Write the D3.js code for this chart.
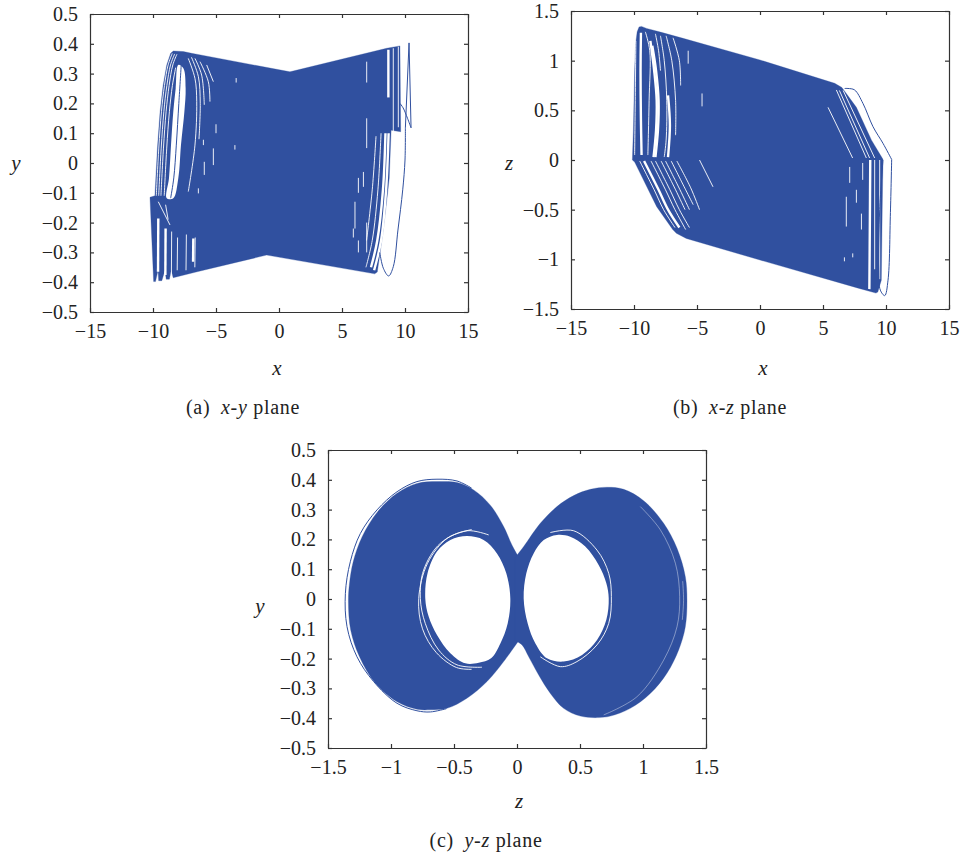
<!DOCTYPE html>
<html>
<head>
<meta charset="utf-8">
<script src="https://cdn.jsdelivr.net/npm/d3@7/dist/d3.min.js"></script>
<style>
  body { margin: 0; background: #fff; }
  text { font-family: "Liberation Serif", serif; fill: #222; }
  .tick text { font-size: 20px; }
  .label { font-size: 21px; font-style: italic; }
  .caption { font-size: 20px; letter-spacing: 0.7px; }
</style>
</head>
<body>
<svg id="chart" width="962" height="861"></svg>
<script>
// tick values and labels
const xTicks = [-15, -10, -5, 0, 5, 10, 15];
const xTickLabels = ['−15', '−10', '−5', '0', '5', '10', '15'];
const yTicks = [-0.5, -0.4, -0.3, -0.2, -0.1, 0, 0.1, 0.2, 0.3, 0.4, 0.5];
const yTickLabels = ['−0.5', '−0.4', '−0.3', '−0.2', '−0.1', '0', '0.1', '0.2', '0.3', '0.4', '0.5'];
const zTicks = [-1.5, -1, -0.5, 0, 0.5, 1, 1.5];
const zTickLabels = ['−1.5', '−1', '−0.5', '0', '0.5', '1', '1.5'];

// (a) x-y plane: area the trajectory fills
const xyBody = [[-9.85,-0.11],[-9.65,0.05],[-9.44,0.172],[-9.2,0.26],[-8.91,0.329],[-8.6,0.368],[-8.39,0.376],[-7.59,0.374],[-6.93,0.368],
  [-6.53,0.365],[0.87,0.306],[8.54,0.385],[9.6,0.393],[9.66,0.105],[8.9,0.11],
  [8.75,-0.05],[8.65,-0.09],[8.25,-0.235],[7.8,-0.366],[7.6,-0.372],[-0.98,-0.309],[-6.5,-0.365],[-8.4,-0.385],[-8.55,-0.36],[-8.7,-0.39],
  [-8.95,-0.39],[-9.05,-0.36],[-9.3,-0.395],[-9.55,-0.395],[-9.6,-0.36],[-9.8,-0.398],[-9.95,-0.398],[-10.24,-0.115]];
const xyHole = [[-7.99,0.329],[-8.2,0.25],[-8.39,0.172],[-8.57,0.06],[-8.73,-0.05],[-8.91,-0.118],[-8.39,-0.118],[-7.99,-0.05],[-7.78,0.06],[-7.51,0.172],[-7.41,0.25],[-7.59,0.318]];
const xyGapsWide = [
  [[8.45,0.1],[8.25,-0.09],[7.8,-0.26],[7.3,-0.35]],
  [[8.7,0.1],[8.5,-0.09],[8.1,-0.26],[7.55,-0.36]],
  [[-9.58,-0.186],[-9.6,-0.365]],
  [[-9.0,-0.22],[-9.02,-0.376]],
  [[-6.8,-0.253],[-6.82,-0.331]],
  [[8.68,0.38],[8.68,0.22]]
];
const xyGapsFine = [
  [[-9.74,-0.11],[-9.54,0.05],[-9.33,0.172],[-9.09,0.26],[-8.8,0.329],[-8.47,0.368]],
  [[-9.55,-0.11],[-9.35,0.05],[-9.14,0.172],[-8.9,0.26],[-8.61,0.329],[-8.28,0.366]],
  [[-9.37,-0.11],[-9.17,0.05],[-8.96,0.172],[-8.72,0.26],[-8.43,0.329],[-8.1,0.365]],
  [[-9.11,-0.11],[-8.91,0.05],[-8.7,0.172],[-8.46,0.26],[-8.2,0.32]],
  [[-7.2,0.351],[-6.67,0.284],[-6.53,0.206],[-6.67,0.06],[-7.2,-0.096]],
  [[-6.95,0.355],[-6.4,0.29],[-6.25,0.2],[-6.35,0.08]],
  [[-6.67,0.351],[-6.14,0.295],[-5.93,0.195]],
  [[-6.27,0.34],[-5.61,0.273],[-5.48,0.206]],
  [[-5.74,0.329],[-5.21,0.273]],
  [[-8.52,-0.23],[-8.54,-0.376]],
  [[-8.05,-0.25],[-8.08,-0.36]],
  [[-7.35,-0.24],[-7.38,-0.36]],
  [[-6.65,-0.25],[-6.68,-0.35]],
  [[-9.58,-0.13],[-8.65,-0.208]],
  [[-9.0,-0.14],[-8.8,-0.19]],
  [[8.1,0.1],[7.85,-0.09],[7.4,-0.26],[6.9,-0.35]],
  [[7.7,0.09],[7.4,-0.09],[6.95,-0.26]],
  [[9.07,0.385],[9.07,0.1]],
  [[9.47,0.39],[9.47,0.12]],
  [[6.96,0.34],[6.96,0.27]],
  [[6.96,0.15],[6.96,0.05]],
  [[6.3,-0.05],[6.3,-0.1]],
  [[6.03,-0.13],[6.03,-0.22]],
  [[5.9,-0.22],[5.9,-0.25]],
  [[6.3,-0.26],[6.3,-0.3]],
  [[6.7,-0.03],[6.7,-0.08]],
  [[6.96,-0.2],[6.96,-0.3]],
  [[-3.4,0.285],[-3.4,0.27]],
  [[-3.5,0.06],[-3.5,0.045]],
  [[-5.0,0.13],[-5.0,0.1]],
  [[-6.0,0.078],[-6.0,0.06]],
  [[-5.21,0.049],[-5.21,-0.007]],
  [[-5.93,0.004],[-5.93,-0.04]],
  [[-6.4,-0.085],[-6.4,-0.102]]
];
const xyLoops = [
  [[10.32,0.403],[10.48,0.118]],
  [[10.32,0.403],[10.03,0.118]],
  [[9.6,0.2],[9.85,0.185],[10.2,0.15],[10.48,0.118]],
  [[10.03,0.118],[10.0,0.01],[9.82,-0.09],[9.44,-0.225],[9.07,-0.348],[8.7,-0.379],[8.28,-0.353],[8.0,-0.3]],
  [[-7.75,0.335],[-7.95,0.2],[-8.15,0.06],[-8.35,-0.05],[-8.6,-0.118]]
];

// (b) x-z plane
const xzBody = [[-10.13,0],[-10.05,0.3],[-10,0.6],[-9.95,0.9],[-9.87,1.17],[-9.75,1.29],[-9.6,1.34],[-9.4,1.345],[-9,1.325],[-7.83,1.285],
  [-6.11,1.225],[0,1.007],[5.93,0.772],[6.5,0.73],[7.65,0.53],[8.85,0.2],[9.76,0.007],[9.7,-0.5],[9.63,-1.21],[9.35,-1.33],[9.2,-1.34],
  [7.8,-1.29],[0,-1.007],[-5.85,-0.79],[-6.64,-0.738],[-6.93,-0.7],[-8.2,-0.47],[-9.95,-0.02]];
const xzGapsWide = [
  [[-9.45,1.28],[-9.48,0.9],[-9.45,0.4],[-9.4,0.05]],
  [[-8.7,1.2],[-8.4,0.9],[-8.2,0.6],[-8.25,0.3],[-8.45,0.03]],
  [[-8.55,1.15],[-8.25,0.9],[-8.05,0.6],[-8.1,0.3],[-8.3,0.03]],
  [[-9.2,-0.01],[-8.05,-0.3],[-7.3,-0.5],[-6.4,-0.68]],
  [[-7.3,0.65],[-7.15,0.35],[-7.3,0.03]],
  [[8.75,0],[8.72,-0.6],[8.68,-1.3]]
];
const xzGapsFine = [
  [[-9.85,1.2],[-9.9,0.6],[-9.95,0.05]],
  [[-9.1,1.29],[-8.75,1.1],[-8.8,0.6],[-8.9,0.05]],
  [[-7.9,1.25],[-7.6,1.0],[-7.4,0.6],[-7.45,0.2],[-7.6,0.03]],
  [[-7.45,1.25],[-7.0,1.0],[-6.7,0.6],[-6.7,0.25]],
  [[-6.9,1.23],[-6.4,1.0],[-6.3,0.75]],
  [[-8.3,1.27],[-8.05,1.1],[-7.9,0.9]],
  [[-9.55,-0.01],[-8.4,-0.3],[-7.65,-0.5],[-6.75,-0.68]],
  [[-8.65,-0.01],[-7.5,-0.3],[-6.75,-0.5],[-5.9,-0.7]],
  [[-8.3,-0.01],[-7.15,-0.3],[-6.4,-0.5],[-5.6,-0.68]],
  [[-7.85,-0.01],[-6.7,-0.3],[-5.95,-0.5]],
  [[-7.5,-0.01],[-6.35,-0.3],[-5.6,-0.5]],
  [[-7.05,-0.01],[-5.9,-0.3],[-5.3,-0.45]],
  [[-6.6,-0.01],[-5.5,-0.28],[-4.8,-0.5]],
  [[5.4,0.53],[7.35,0.02]],
  [[6.06,0.705],[8.44,0.02]],
  [[6.3,0.7],[8.7,0.02]],
  [[6.6,0.7],[9.1,0.02]],
  [[9.1,0],[9.1,-1.1]],
  [[9.5,0],[9.5,-1.2]],
  [[6.85,-0.37],[6.85,-0.67]],
  [[7.12,-0.07],[7.12,-0.23]],
  [[7.65,-0.3],[7.65,-0.43]],
  [[8.05,-0.54],[8.05,-0.7]],
  [[8.15,-0.03],[8.15,-0.2]],
  [[7.36,-0.94],[7.36,-0.98]],
  [[6.7,-0.98],[6.7,-1.02]],
  [[-4.6,0.67],[-4.6,0.54]],
  [[-5.7,1.1],[-5.7,0.97]],
  [[-4.8,0],[-3.73,-0.27]]
];
const xzLoops = [
  [[6.72,0.72],[6.98,0.72],[7.51,0.705],[8.17,0.57],[8.97,0.335],[9.76,0.168],[10.45,0.005]],
  [[10.45,0.005],[10.35,-0.53],[10.16,-1.21],[9.9,-1.365],[9.55,-1.31],[9.42,-1.1],[9.5,-0.5],[9.76,0]]
];

// (c) y-z plane, points are [z, y]
const zyLeftLobe = [[0.013,0.14],[-0.04,0.181],[-0.106,0.243],[-0.212,0.315],[-0.344,0.366],[-0.476,0.391],[-0.635,0.394],[-0.794,0.388],[-0.952,0.355],
  [-1.106,0.293],[-1.228,0.21],[-1.30,0.125],[-1.33,0.05],[-1.338,-0.01],[-1.32,-0.104],[-1.25,-0.194],[-1.124,-0.283],[-0.952,-0.345],
  [-0.794,-0.37],[-0.688,-0.372],[-0.556,-0.367],[-0.397,-0.333],[-0.238,-0.277],[-0.106,-0.21],[0.013,-0.14]];
const zyRightLobe = [[-0.013,0.14],[0.053,0.176],[0.185,0.254],[0.317,0.31],[0.45,0.347],[0.582,0.368],[0.714,0.375],[0.847,0.368],[1.005,0.33],[1.164,0.254],
  [1.27,0.17],[1.336,0.075],[1.349,-0.003],[1.336,-0.093],[1.283,-0.171],[1.19,-0.249],[1.058,-0.317],[0.899,-0.367],[0.741,-0.393],[0.648,-0.398],[0.503,-0.393],
  [0.37,-0.367],[0.265,-0.317],[0.172,-0.255],[0.093,-0.194],[0.04,-0.154],[-0.013,-0.14]];
const zyLeftHole = [[-0.397,0.211],[-0.265,0.198],[-0.159,0.153],[-0.085,0.086],[-0.053,0.002],[-0.074,-0.082],[-0.132,-0.149],[-0.206,-0.199],
  [-0.304,-0.214],[-0.41,-0.216],[-0.529,-0.182],[-0.635,-0.121],[-0.701,-0.059],[-0.728,0.002],[-0.71,0.086],[-0.635,0.159],[-0.529,0.198]];
const zyRightHole = [[0.053,0.002],[0.074,0.086],[0.132,0.153],[0.212,0.198],[0.317,0.215],[0.423,0.209],[0.542,0.176],[0.648,0.114],[0.709,0.053],[0.728,0.002],
  [0.709,-0.07],[0.635,-0.138],[0.516,-0.188],[0.37,-0.21],[0.238,-0.199],[0.146,-0.149],[0.085,-0.082]];
const zyGapsFine = [
  [[-0.225,0.215],[-0.397,0.229],[-0.608,0.187],[-0.741,0.097],[-0.767,0.002],[-0.728,-0.082],[-0.622,-0.171],[-0.476,-0.221],[-0.278,-0.229]],
  [[-0.36,0.233],[-0.55,0.205],[-0.71,0.12],[-0.78,0.002],[-0.75,-0.1],[-0.64,-0.18],[-0.48,-0.23],[-0.36,-0.236]],
  [[0.265,0.223],[0.45,0.229],[0.635,0.164],[0.728,0.086],[0.749,0.008],[0.728,-0.082],[0.635,-0.154],[0.476,-0.21],[0.344,-0.227],[0.185,-0.194]]
];
const zyGapsHair = [
  [[0.979,0.31],[1.138,0.232],[1.257,0.12],[1.291,0.008],[1.27,-0.093],[1.164,-0.205],[0.952,-0.328],[0.688,-0.389]],
  [[1.315,0.06],[1.322,-0.005],[1.312,-0.07]]
];
const zyLoops = [
  [[-0.36,0.372],[-0.476,0.396],[-0.635,0.402],[-0.794,0.394],[-0.952,0.36],[-1.111,0.299],[-1.243,0.22],[-1.323,0.125],[-1.362,0.019],
   [-1.349,-0.093],[-1.27,-0.194],[-1.138,-0.277],[-0.952,-0.35],[-0.794,-0.375],[-0.688,-0.379],[-0.56,-0.368]]
];

const blue = '#30509f';
const svg = d3.select('#chart');

function drawPanel(p) {
  const x = d3.scaleLinear().domain([p.xTicks[0], p.xTicks[p.xTicks.length - 1]]).range([p.left, p.left + 378]);
  const y = d3.scaleLinear().domain([p.yTicks[0], p.yTicks[p.yTicks.length - 1]]).range([p.top + 298, p.top]);
  const g = svg.append('g');
  const straight = d3.line().x(d => x(d[0])).y(d => y(d[1]));
  const smooth = d3.line().x(d => x(d[0])).y(d => y(d[1])).curve(d3.curveCatmullRom);
  const round = d3.line().x(d => x(d[0])).y(d => y(d[1])).curve(d3.curveCatmullRomClosed);

  // dense trajectory
  g.selectAll('.body').data(p.bodies).enter().append('path')
    .attr('d', d => (p.smoothBody ? smooth(d) : straight(d)) + 'Z')
    .attr('fill', blue).attr('stroke', blue).attr('stroke-width', 0.3);
  g.selectAll('.hole').data(p.holes).enter().append('path')
    .attr('d', round)
    .attr('fill', '#fff');
  g.selectAll('.wide').data(p.gapsWide).enter().append('path')
    .attr('d', smooth).attr('fill', 'none').attr('stroke', '#fff').attr('stroke-width', 2.4);
  g.selectAll('.fine').data(p.gapsFine).enter().append('path')
    .attr('d', smooth).attr('fill', 'none').attr('stroke', '#fff').attr('stroke-width', 0.9);
  g.selectAll('.hair').data(p.gapsHair || []).enter().append('path')
    .attr('d', smooth).attr('fill', 'none').attr('stroke', '#fff').attr('stroke-width', 0.4);
  g.selectAll('.loop').data(p.loops).enter().append('path')
    .attr('d', smooth).attr('fill', 'none').attr('stroke', blue).attr('stroke-width', 1);

  // gnuplot style frame, ticks point inwards on all sides
  const bottom = d3.axisBottom(x).tickValues(p.xTicks).tickSize(-4).tickSizeOuter(0).tickPadding(12)
    .tickFormat((d, i) => p.xLabels[i]);
  const left = d3.axisLeft(y).tickValues(p.yTicks).tickSize(-4).tickSizeOuter(0).tickPadding(12)
    .tickFormat((d, i) => p.yLabels[i]);
  const top = d3.axisTop(x).tickValues(p.xTicks).tickSize(-4).tickSizeOuter(0).tickFormat('');
  const right = d3.axisRight(y).tickValues(p.yTicks).tickSize(-4).tickSizeOuter(0).tickFormat('');
  [[bottom, 0, p.top + 298], [left, p.left, 0], [top, 0, p.top], [right, p.left + 378, 0]].forEach(a => {
    const axis = g.append('g').attr('transform', `translate(${a[1]},${a[2]})`).call(a[0]);
    axis.selectAll('path,line').attr('stroke', '#333').attr('stroke-width', 1.2);
    axis.selectAll('text').attr('fill', '#222');
    axis.attr('font-family', null).attr('font-size', null);
  });

  g.append('text').attr('class', 'label').attr('text-anchor', 'middle')
    .attr('x', p.xLabelAt[0]).attr('y', p.xLabelAt[1]).text(p.xName);
  g.append('text').attr('class', 'label').attr('text-anchor', 'middle')
    .attr('x', p.yLabelAt[0]).attr('y', p.yLabelAt[1]).text(p.yName);

  const cap = g.append('text').attr('class', 'caption').attr('text-anchor', 'middle')
    .attr('x', p.captionAt[0]).attr('y', p.captionAt[1]);
  cap.append('tspan').text(p.captionTag + '\u2002');
  cap.append('tspan').attr('font-style', 'italic').text(p.captionPlane);
  cap.append('tspan').text(' plane');
}

drawPanel({
  left: 90, top: 14, xTicks: xTicks, xLabels: xTickLabels, yTicks: yTicks, yLabels: yTickLabels,
  bodies: [xyBody], holes: [xyHole], gapsWide: xyGapsWide, gapsFine: xyGapsFine, loops: xyLoops,
  xName: 'x', yName: 'y', xLabelAt: [277, 375], yLabelAt: [16, 170],
  captionTag: '(a)', captionPlane: 'x-y', captionAt: [243, 414]
});
drawPanel({
  left: 571, top: 11, xTicks: xTicks, xLabels: xTickLabels, yTicks: zTicks, yLabels: zTickLabels,
  bodies: [xzBody], holes: [], gapsWide: xzGapsWide, gapsFine: xzGapsFine, loops: xzLoops,
  xName: 'x', yName: 'z', xLabelAt: [763, 375], yLabelAt: [509, 170],
  captionTag: '(b)', captionPlane: 'x-z', captionAt: [730, 414]
});
drawPanel({
  left: 328, top: 450, xTicks: zTicks, xLabels: zTickLabels, yTicks: yTicks, yLabels: yTickLabels,
  bodies: [zyLeftLobe, zyRightLobe], smoothBody: true, holes: [zyLeftHole, zyRightHole], gapsWide: [], gapsFine: zyGapsFine, gapsHair: zyGapsHair, loops: zyLoops,
  xName: 'z', yName: 'y', xLabelAt: [519, 808], yLabelAt: [260, 613],
  captionTag: '(c)', captionPlane: 'y-z', captionAt: [486, 847]
});
</script>
</body>
</html>
